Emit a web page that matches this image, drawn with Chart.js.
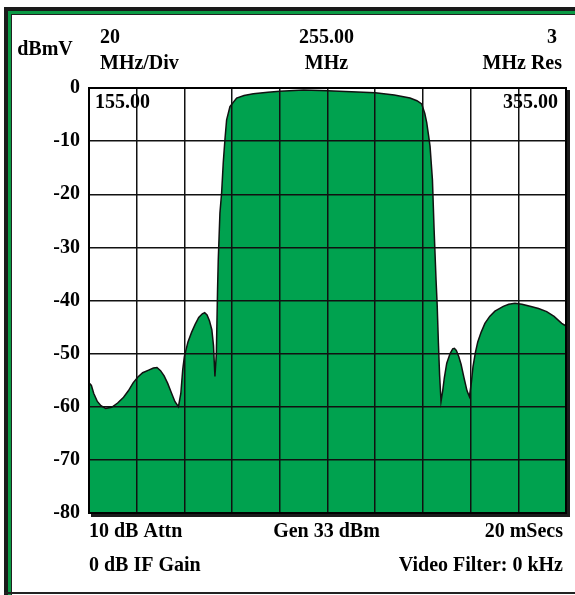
<!DOCTYPE html>
<html>
<head>
<title>Spectrum Analyzer Sweep</title>
<script src="https://cdn.jsdelivr.net/npm/chart.js"></script>
<style>
  html, body { margin: 0; padding: 0; background: #fff; }
</style>
</head>
<body>
<canvas id="spectrum" width="575" height="595"></canvas>
<script>
// sweep trace, MHz vs dBmV
const freqMHz = [
  155.0, 156.0, 157.0, 158.5, 160.0, 162.0, 164.5, 167.0, 169.5, 171.5,
  173.5, 175.5, 177.5, 180.0, 182.0, 183.5, 185.0, 186.5, 188.0, 189.5,
  191.0, 192.5, 193.5, 194.3, 195.0, 196.5, 198.0, 199.5, 201.0, 202.5,
  203.5, 204.5, 205.5, 206.5, 207.2, 207.8, 208.4, 208.9, 209.2, 209.9,
  210.6, 211.3, 212.0, 212.7, 214.1, 216.9, 220.0, 223.9, 230.0, 235.0,
  245.0, 255.0, 265.0, 275.0, 283.0, 289.6, 292.5, 294.5, 295.0, 295.8,
  296.6, 297.4, 298.0, 299.0, 299.7, 300.5, 301.0, 301.5, 302.0, 302.6,
  303.3, 304.0, 305.0, 306.4, 307.5, 308.2, 309.0, 310.0, 311.0, 312.2,
  313.5, 314.5, 315.3, 316.0, 317.0, 318.0, 319.4, 321.0, 323.0, 325.2,
  328.7, 331.0, 333.6, 336.5, 339.9, 343.5, 346.9, 350.0, 353.2, 355.0
];
const levelDbmV = [
  -55.5, -56.0, -57.5, -59.0, -59.8, -60.3, -60.1, -59.3, -58.2, -57.0,
  -55.5, -54.4, -53.6, -53.1, -52.7, -52.6, -53.2, -54.2, -55.6, -57.3,
  -59.0, -60.0, -57.5, -53.0, -50.5, -47.8, -46.0, -44.5, -43.2, -42.5,
  -42.3, -42.7, -43.8, -45.5, -48.5, -54.3, -50.0, -38.0, -32.3, -23.5,
  -19.8, -14.0, -9.7, -6.0, -3.5, -1.9, -1.4, -1.1, -0.8, -0.6,
  -0.4, -0.5, -0.7, -0.9, -1.3, -1.9, -2.4, -3.0, -3.7, -4.8,
  -6.5, -9.0, -11.0, -17.3, -26.7, -36.0, -41.0, -48.0, -54.0, -59.0,
  -57.0, -54.5, -51.8, -50.0, -49.1, -49.0, -49.4, -50.5, -52.0, -54.5,
  -57.0, -58.1, -55.5, -52.5, -49.8, -47.8, -46.0, -44.3, -43.0, -42.0,
  -41.1, -40.7, -40.5, -40.7, -41.1, -41.5, -42.1, -43.0, -44.3, -44.8
];

const yUnit = 'dBmV';
const headerValues = ['20', '255.00', '3'];
const headerUnits = ['MHz/Div', 'MHz', 'MHz Res'];
const spanEnds = ['155.00', '355.00'];
const footerRow1 = ['10 dB Attn', 'Gen 33 dBm', '20 mSecs'];
const footerRow2 = ['0 dB IF Gain', 'Video Filter: 0 kHz'];

const serif = '"Liberation Serif", "Times New Roman", serif';
const labelFont = 'bold 20px ' + serif;

const framePlugin = {
  id: 'frame',
  beforeDraw(chart) {
    const c = chart.ctx;
    const w = chart.width, h = chart.height;
    c.save();
    c.fillStyle = '#fff';
    c.fillRect(0, 0, w, h);
    // dark outer band + green stripe (top and left), thin black at bottom
    c.fillStyle = '#1a1a1a';
    c.fillRect(4, 7, w - 4, 4);
    c.fillRect(4, 7, 4, h - 7);
    c.fillStyle = '#0a9a44';
    c.fillRect(8, 11, w - 8, 3);
    c.fillRect(8, 11, 3, h - 11);
    c.fillStyle = '#222';
    c.fillRect(11, 14, w - 11, 1);
    c.fillRect(11, 14, 1, h - 14);
    c.fillRect(4, h - 3, w - 4, 2);
    c.restore();
  },
  afterDraw(chart) {
    const c = chart.ctx;
    const a = chart.chartArea;
    c.save();
    // plot border with a drop shadow on right and bottom
    c.fillStyle = '#1b1b1b';
    c.fillRect(a.right, a.top + 2, 4, a.bottom - a.top + 2);
    c.fillRect(a.left + 2, a.bottom, a.right - a.left + 2, 4);
    c.strokeStyle = '#000';
    c.lineWidth = 2;
    c.strokeRect(a.left, a.top, a.right - a.left, a.bottom - a.top);

    c.fillStyle = '#000';
    c.font = labelFont;
    c.textBaseline = 'middle';
    const mid = (a.left + a.right) / 2 - 1;

    c.textAlign = 'center';
    c.fillText(yUnit, 45, 50);

    // header lines
    c.textAlign = 'left';
    c.fillText(headerValues[0], 100, 38);
    c.fillText(headerUnits[0], 100, 64);
    c.textAlign = 'center';
    c.fillText(headerValues[1], mid, 38);
    c.fillText(headerUnits[1], mid, 64);
    c.textAlign = 'right';
    c.fillText(headerValues[2], 557, 38);
    c.fillText(headerUnits[2], 562, 64);

    // start / stop frequency inside the grid
    c.textAlign = 'left';
    c.fillText(spanEnds[0], a.left + 6, a.top + 15);
    c.textAlign = 'right';
    c.fillText(spanEnds[1], a.right - 8, a.top + 15);

    // footer
    c.textAlign = 'left';
    c.fillText(footerRow1[0], a.left, 532);
    c.fillText(footerRow2[0], a.left, 566);
    c.textAlign = 'center';
    c.fillText(footerRow1[1], mid, 532);
    c.textAlign = 'right';
    c.fillText(footerRow1[2], a.right - 3, 532);
    c.fillText(footerRow2[1], a.right - 3, 566);
    c.restore();
  }
};

new Chart(document.getElementById('spectrum'), {
  type: 'line',
  data: {
    datasets: [{
      data: freqMHz.map((f, i) => ({ x: f, y: levelDbmV[i] })),
      borderColor: '#111',
      borderWidth: 1.5,
      backgroundColor: '#00a24f',
      fill: 'start',
      pointRadius: 0,
      tension: 0
    }]
  },
  options: {
    responsive: false,
    animation: false,
    layout: { padding: { top: 88, right: 9, bottom: 82, left: 0 } },
    plugins: { legend: { display: false }, tooltip: { enabled: false } },
    scales: {
      x: {
        type: 'linear',
        min: 155,
        max: 355,
        ticks: { display: false, stepSize: 20 },
        grid: { color: '#111', lineWidth: 1.5, drawTicks: false, z: 1 },
        border: { display: false },
        afterFit(scale) { scale.height = 0; }
      },
      y: {
        min: -80,
        max: 0,
        ticks: {
          stepSize: 10,
          padding: 9,
          color: '#000',
          font: { family: serif, size: 20, weight: 'bold' }
        },
        grid: { color: '#111', lineWidth: 1.5, drawTicks: false, z: 1 },
        border: { display: false },
        afterFit(scale) { scale.width = 89; }
      }
    }
  },
  plugins: [framePlugin]
});
</script>
</body>
</html>
